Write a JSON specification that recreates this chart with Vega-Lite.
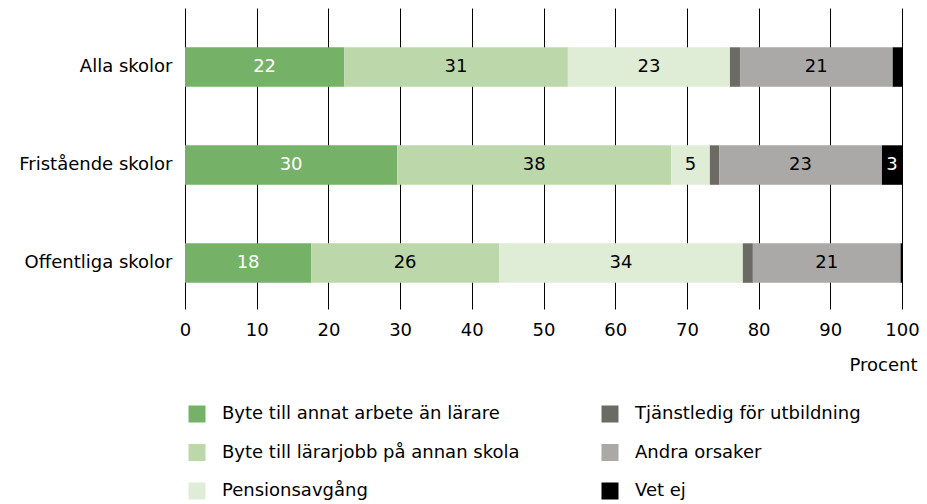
{
  "$schema": "https://vega.github.io/schema/vega-lite/v6.json",
  "width": 717,
  "height": 301,
  "autosize": "none",
  "padding": {"left": 185, "top": 8, "right": 25, "bottom": 195},
  "background": "white",
  "config": {
    "font": "DejaVu Sans",
    "view": {"stroke": null}
  },
  "data": {
    "values": [
      {"skola": "Alla skolor", "orsak": "Byte till annat arbete än lärare", "ord": 1, "value": 22.2},
      {"skola": "Alla skolor", "orsak": "Byte till lärarjobb på annan skola", "ord": 2, "value": 31.2},
      {"skola": "Alla skolor", "orsak": "Pensionsavgång", "ord": 3, "value": 22.6},
      {"skola": "Alla skolor", "orsak": "Tjänstledig för utbildning", "ord": 4, "value": 1.4},
      {"skola": "Alla skolor", "orsak": "Andra orsaker", "ord": 5, "value": 21.3},
      {"skola": "Alla skolor", "orsak": "Vet ej", "ord": 6, "value": 1.3},
      {"skola": "Fristående skolor", "orsak": "Byte till annat arbete än lärare", "ord": 1, "value": 29.6},
      {"skola": "Fristående skolor", "orsak": "Byte till lärarjobb på annan skola", "ord": 2, "value": 38.2},
      {"skola": "Fristående skolor", "orsak": "Pensionsavgång", "ord": 3, "value": 5.4},
      {"skola": "Fristående skolor", "orsak": "Tjänstledig för utbildning", "ord": 4, "value": 1.3},
      {"skola": "Fristående skolor", "orsak": "Andra orsaker", "ord": 5, "value": 22.7},
      {"skola": "Fristående skolor", "orsak": "Vet ej", "ord": 6, "value": 2.8},
      {"skola": "Offentliga skolor", "orsak": "Byte till annat arbete än lärare", "ord": 1, "value": 17.6},
      {"skola": "Offentliga skolor", "orsak": "Byte till lärarjobb på annan skola", "ord": 2, "value": 26.2},
      {"skola": "Offentliga skolor", "orsak": "Pensionsavgång", "ord": 3, "value": 34.0},
      {"skola": "Offentliga skolor", "orsak": "Tjänstledig för utbildning", "ord": 4, "value": 1.4},
      {"skola": "Offentliga skolor", "orsak": "Andra orsaker", "ord": 5, "value": 20.6},
      {"skola": "Offentliga skolor", "orsak": "Vet ej", "ord": 6, "value": 0.3}
    ]
  },
  "transform": [
    {"stack": "value", "groupby": ["skola"], "sort": [{"field": "ord", "order": "ascending"}], "as": ["x0", "x1"]}
  ],
  "encoding": {
    "y": {
      "field": "skola",
      "type": "nominal",
      "sort": ["Alla skolor", "Fristående skolor", "Offentliga skolor"],
      "scale": {"paddingInner": 0.597, "paddingOuter": 0.334, "align": 0.6},
      "axis": {
        "title": null,
        "domain": false,
        "ticks": false,
        "labelFontSize": 18,
        "labelColor": "#000000",
        "labelPadding": 13,
        "labelFont": "DejaVu Sans"
      }
    }
  },
  "layer": [
    {
      "mark": {"type": "bar", "cornerRadius": 0},
      "encoding": {
        "x": {
          "field": "x0",
          "type": "quantitative",
          "scale": {"domain": [0, 100], "nice": false},
          "axis": {
            "values": [0, 10, 20, 30, 40, 50, 60, 70, 80, 90, 100],
            "title": "Procent",
            "titleFontSize": 18,
            "titleFontWeight": "normal",
            "titleColor": "#000000",
            "titleAnchor": "end",
            "titleAlign": "right",
            "titleX": 732,
            "titleY": 56,
            "titleBaseline": "middle",
            "domain": false,
            "ticks": false,
            "grid": true,
            "gridColor": "#000000",
            "gridOpacity": 1,
            "gridWidth": 1,
            "labelFontSize": 18,
            "labelColor": "#000000",
            "labelPadding": 12,
            "labelFlush": false
          }
        },
        "x2": {"field": "x1"},
        "color": {
          "field": "orsak",
          "type": "nominal",
          "scale": {
            "domain": ["Byte till annat arbete än lärare", "Tjänstledig för utbildning", "Byte till lärarjobb på annan skola", "Andra orsaker", "Pensionsavgång", "Vet ej"],
            "range": ["#75b267", "#6b6a64", "#bcd8aa", "#aaa9a7", "#e0edd6", "#000000"]
          },
          "legend": {
            "title": null,
            "orient": "none",
            "legendX": 3,
            "legendY": 397,
            "columns": 2,
            "direction": "horizontal",
            "symbolType": "square",
            "symbolSize": 289,
            "symbolStrokeWidth": 0,
            "symbolOpacity": 1,
            "labelFontSize": 18,
            "labelColor": "#000000",
            "labelOffset": 16,
            "labelLimit": 400,
            "rowPadding": 20.5,
            "columnPadding": 81,
            "padding": 0
          }
        }
      }
    },
    {
      "transform": [
        {"filter": "datum.value >= 2.5"},
        {"fold": ["x0", "x1"], "as": ["kant", "pos"]},
        {"aggregate": [{"op": "mean", "field": "pos", "as": "mid"}], "groupby": ["skola", "orsak", "value"]}
      ],
      "mark": {"type": "text", "fontSize": 18, "baseline": "middle", "align": "center"},
      "encoding": {
        "x": {"field": "mid", "type": "quantitative"},
        "text": {"field": "value", "type": "quantitative", "format": ".0f"},
        "color": {
          "condition": {"test": "datum.orsak === 'Byte till annat arbete än lärare' || datum.orsak === 'Vet ej'", "value": "#ffffff"},
          "value": "#000000"
        }
      }
    }
  ]
}
